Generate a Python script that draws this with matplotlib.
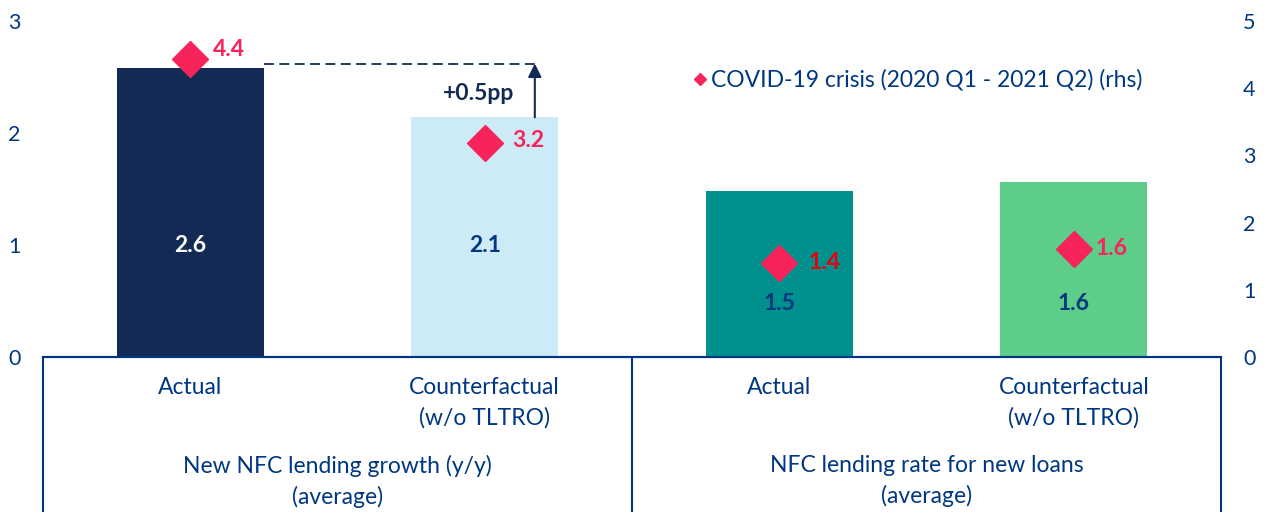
import matplotlib
matplotlib.use("Agg")
import matplotlib.pyplot as plt
from matplotlib.lines import Line2D

# ---- data ----
categories = ["Actual", "Counterfactual\n(w/o TLTRO)", "Actual", "Counterfactual\n(w/o TLTRO)"]
groups = ["New NFC lending growth (y/y)\n(average)", "NFC lending rate for new loans\n(average)"]
bar_values = [2.58, 2.14, 1.48, 1.56]
bar_labels = ["2.6", "2.1", "1.5", "1.6"]
covid_values = [4.43, 3.18, 1.40, 1.61]
covid_labels = ["4.4", "3.2", "1.4", "1.6"]
left_ticks = [0, 1, 2, 3]
right_ticks = [0, 1, 2, 3, 4, 5]
legend_label = "COVID-19 crisis (2020 Q1 - 2021 Q2) (rhs)"
gap_label = "+0.5pp"

# ---- style ----
FONT = "Lato"
plt.rcParams["font.family"] = [FONT, "DejaVu Sans"]
NAVY = "#003781"
DARK = "#122B54"
bar_colors = ["#132B54", "#CDEBF7", "#00908D", "#5FCD8A"]
bar_text_colors = ["white", NAVY, NAVY, NAVY]
DIAMOND = "#F6245A"
covid_text_colors = [DIAMOND, DIAMOND, "#E8000B", DIAMOND]
FS = 16.5
FSB = 16.5

W, H = 1264, 512
fig = plt.figure(figsize=(W / 100, H / 100), dpi=100)
ax_l, ax_r, ax_b, ax_t = 43, 1221, 357, 21
ax = fig.add_axes([ax_l / W, (H - ax_b) / H, (ax_r - ax_l) / W, (ax_b - ax_t) / H])
ax2 = ax.twinx()

x = list(range(len(categories)))
ax.bar(x, bar_values, width=0.5, color=bar_colors, zorder=2)
ax.set_xlim(-0.5, 3.5)
ax.set_ylim(0, 3)
ax2.set_ylim(0, 5)
ax.set_yticks(left_ticks)
ax2.set_yticks(right_ticks)
ax.set_xticks([])

for a in (ax, ax2):
    for s in a.spines.values():
        s.set_visible(False)
    a.tick_params(axis="y", length=0, labelsize=15.5, labelcolor=NAVY, pad=16)
ax2.spines["bottom"].set_visible(True)
ax2.spines["bottom"].set_color(NAVY)
ax2.spines["bottom"].set_linewidth(1.5)

# bar value labels
label_y = [1.0, 1.0, 0.48, 0.48]
for xi, lab, ly, c in zip(x, bar_labels, label_y, bar_text_colors):
    ax.text(xi, ly, lab, ha="center", va="center", fontsize=FSB,
            fontweight="bold", color=c, zorder=4)

# diamonds
ax2.plot(x, covid_values, linestyle="none", marker="D", ms=18.8,
         color=DIAMOND, zorder=5)
offsets = [(16, 7), (20, 2), (21, 0), (16, 0)]
for xi, v, lab, c, off in zip(x, covid_values, covid_labels, covid_text_colors, offsets):
    ax2.annotate(lab, (xi, v), xytext=off, textcoords="offset points",
                 ha="left", va="center", fontsize=FSB, fontweight="bold", color=c,
                 zorder=6)

# dashed reference + arrow
arrow_x = 1.17
ref_y = bar_values[0] + 0.04
ax2.plot([0.25, arrow_x], [ref_y * 5 / 3] * 2, color=DARK, lw=1.3,
         dashes=(5.5, 3), zorder=3)
ax2.annotate("", xy=(arrow_x, ref_y * 5 / 3), xytext=(arrow_x, bar_values[1] * 5 / 3),
             arrowprops=dict(arrowstyle="-|>", mutation_scale=20, lw=1.5,
                             color=DARK, shrinkA=0, shrinkB=0), zorder=3)
ax.text(arrow_x - 0.07, 2.35, gap_label, ha="right", va="center", fontsize=FSB,
        fontweight="bold", color=DARK)

# legend
handle = Line2D([], [], linestyle="none", marker="D", ms=6.2, color=DIAMOND)
fig.legend([handle], [legend_label], loc="center left",
           bbox_to_anchor=(692 / W, 1 - 80 / H), frameon=False, fontsize=FS,
           labelcolor=NAVY, handlelength=0.7, handletextpad=0.12, borderpad=0,
           borderaxespad=0)

# category box below the axis
xt = ax.get_xaxis_transform()
box_bottom = -(H - ax_b) / (ax_b - ax_t)
for bx in (-0.5, 1.5, 3.5):
    ax.plot([bx, bx], [0, box_bottom], transform=xt, color=NAVY, lw=1.5,
            clip_on=False, solid_capstyle="butt")
ax.plot([-0.5, 3.5], [0, 0], transform=xt, color=NAVY, lw=1.5, clip_on=False)

cat_y = -(377 - ax_b) / (ax_b - ax_t)
for xi, lab in zip(x, categories):
    ax.text(xi, cat_y, lab, transform=xt, ha="center", va="top", fontsize=FS,
            color=NAVY, linespacing=1.5)
grp_y = -(455 - ax_b) / (ax_b - ax_t)
for gi, lab in enumerate(groups):
    ax.text(0.5 + 2 * gi, grp_y, lab, transform=xt, ha="center", va="top",
            fontsize=FS, color=NAVY, linespacing=1.5)

fig.savefig("out.png", dpi=100)
